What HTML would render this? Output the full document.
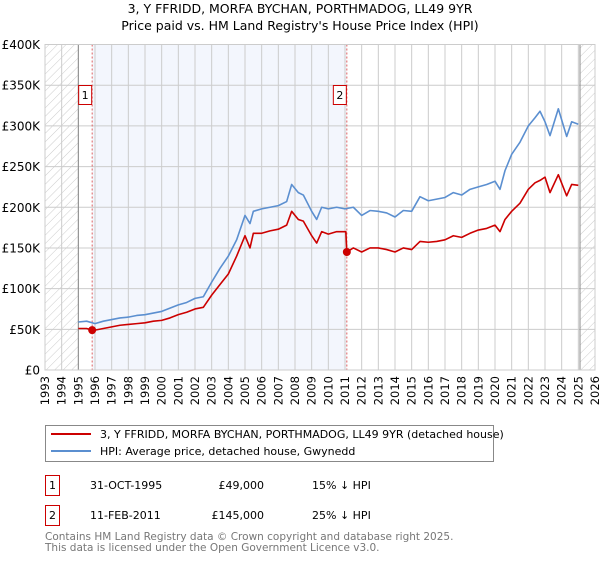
<!DOCTYPE html>
<html><head><meta charset="utf-8"><style>
body{margin:0;background:#fff;font-family:"DejaVu Sans","Liberation Sans",sans-serif;}
svg text{font-family:"DejaVu Sans","Liberation Sans",sans-serif;}
</style></head><body>
<svg id="c" width="600" height="560" xmlns="http://www.w3.org/2000/svg">
<defs><pattern id="h" width="6" height="6" patternUnits="userSpaceOnUse" patternTransform="rotate(45)"><line x1="0" y1="0" x2="0" y2="6" stroke="#ccc" stroke-width="1"/></pattern></defs>
<text x="300" y="13" font-size="12.5" text-anchor="middle">3, Y FFRIDD, MORFA BYCHAN, PORTHMADOG, LL49 9YR</text>
<text x="300" y="30" font-size="12.5" text-anchor="middle">Price paid vs. HM Land Registry's House Price Index (HPI)</text>
<g id="plot"></g>
<rect x="45.5" y="425.5" width="448" height="36" fill="#fff" stroke="#888"/>
<line x1="51" y1="434" x2="91" y2="434" stroke="#cc0000" stroke-width="2"/>
<text x="100" y="438" font-size="11">3, Y FFRIDD, MORFA BYCHAN, PORTHMADOG, LL49 9YR (detached house)</text>
<line x1="51" y1="451" x2="91" y2="451" stroke="#5b8fd0" stroke-width="2"/>
<text x="100" y="455" font-size="11">HPI: Average price, detached house, Gwynedd</text>
<g font-size="11">
<rect x="45.5" y="475.5" width="14" height="20" fill="#fff" stroke="#cc0000"/><text x="52.5" y="489" text-anchor="middle">1</text>
<text x="90" y="489">31-OCT-1995</text><text x="264" y="489" text-anchor="end">£49,000</text><text x="312" y="489">15% ↓ HPI</text></g>
<g font-size="11">
<rect x="45.5" y="505.5" width="14" height="20" fill="#fff" stroke="#cc0000"/><text x="52.5" y="519" text-anchor="middle">2</text>
<text x="90" y="519">11-FEB-2011</text><text x="264" y="519" text-anchor="end">£145,000</text><text x="312" y="519">25% ↓ HPI</text></g>
<text x="45" y="540" font-size="10.5" fill="#777">Contains HM Land Registry data © Crown copyright and database right 2025.</text>
<text x="45" y="551" font-size="10.5" fill="#777">This data is licensed under the Open Government Licence v3.0.</text>
</svg>
<script>
const hpiYears=[1995,1995.5,1996,1996.5,1997,1997.5,1998,1998.5,1999,1999.5,2000,2000.5,2001,2001.5,2002,2002.5,2003,2003.5,2004,2004.5,2005,2005.3,2005.5,2006,2006.5,2007,2007.5,2007.8,2008.2,2008.5,2009,2009.3,2009.6,2010,2010.5,2011,2011.5,2012,2012.5,2013,2013.5,2014,2014.5,2015,2015.5,2016,2016.5,2017,2017.5,2018,2018.5,2019,2019.5,2020,2020.3,2020.6,2021,2021.5,2022,2022.4,2022.7,2023,2023.3,2023.8,2024.3,2024.6,2025];
const hpiValues=[59,60,57,60,62,64,65,67,68,70,72,76,80,83,88,90,108,125,140,160,190,180,195,198,200,202,207,228,218,215,195,185,200,198,200,198,200,190,196,195,193,188,196,195,213,208,210,212,218,215,222,225,228,232,222,245,265,280,300,310,318,305,288,321,287,305,302];
const propYears=[1995,1995.5,1995.83,1996,1996.5,1997,1997.5,1998,1998.5,1999,1999.5,2000,2000.5,2001,2001.5,2002,2002.5,2003,2003.5,2004,2004.5,2005,2005.3,2005.5,2006,2006.5,2007,2007.5,2007.8,2008.2,2008.5,2009,2009.3,2009.6,2010,2010.5,2011.05,2011.11,2011.5,2012,2012.5,2013,2013.5,2014,2014.5,2015,2015.5,2016,2016.5,2017,2017.5,2018,2018.5,2019,2019.5,2020,2020.3,2020.6,2021,2021.5,2022,2022.4,2022.7,2023,2023.3,2023.8,2024.3,2024.6,2025];
const propValues=[51,51,49,49,51,53,55,56,57,58,60,61,64,68,71,75,77,92,105,118,140,165,150,168,168,171,173,178,195,185,183,165,156,170,167,170,170,145,150,145,150,150,148,145,150,148,158,157,158,160,165,163,168,172,174,178,170,185,195,205,222,230,233,237,218,240,214,228,227];
const sales=[[1995.83,49],[2011.11,145]];
const yTicks=[0,50,100,150,200,250,300,350,400];
const X=y=>45+(y-1993)*550/33, Y=v=>370-v*325.5/400;
const ns="http://www.w3.org/2000/svg", g=document.getElementById('plot');
function el(t,a,p){const e=document.createElementNS(ns,t);for(const k in a)e.setAttribute(k,a[k]);(p||g).appendChild(e);return e;}
let r=el('rect',{x:45,y:44.5,width:550,height:325.5,fill:'#fff'});


r=el('rect',{x:X(1995.83),y:44.5,width:X(2011.11)-X(1995.83),height:325.5,fill:'#f3f6fd'});


r=el('rect',{x:45,y:44.5,width:X(1995)-45,height:325.5,fill:'url(#h)'});


r=el('rect',{x:X(2025.1),y:44.5,width:595-X(2025.1),height:325.5,fill:'url(#h)'});


for(let yr=1993;yr<=2026;yr++){
 const l=el('line',{x1:X(yr),x2:X(yr),y1:44.5,y2:370,stroke:'#ccc','stroke-width':1});
 
 
 const t=el('text',{x:0,y:0,'font-size':11.5,'text-anchor':'end',transform:`translate(${X(yr)+4},376) rotate(-90)`});
 
 
 t.textContent=yr;
}
yTicks.forEach(v=>{
 const l=el('line',{x1:45,x2:595,y1:Y(v),y2:Y(v),stroke:'#ccc','stroke-width':1});
 
 
 const t=el('text',{x:40,y:Y(v)+4.5,'font-size':12,'text-anchor':'end'});
 
 
 t.textContent=v==0?'£0':'£'+v+'K';
});
[1995,2025.1].forEach(yr=>{const l=el('line',{x1:X(yr),x2:X(yr),y1:44.5,y2:370,stroke:'#888','stroke-width':1});
 
 });
sales.forEach((s,i)=>{
 const l=el('line',{x1:X(s[0]),x2:X(s[0]),y1:44.5,y2:370,stroke:'#e06060','stroke-width':1,'stroke-dasharray':'2,2'});
 
 
 const b=el('rect',{x:X(s[0])-13.5,y:85.5,width:13,height:19,fill:'#fff',stroke:'#cc0000'});
 
 
 const t=el('text',{x:X(s[0])-7,y:99,'font-size':11,'text-anchor':'middle'});
 
 
 t.textContent=i+1;
});
function line(xs,vs,c,n){const p=el('polyline',{points:xs.map((x,i)=>X(x)+','+Y(vs[i])).join(' '),fill:'none',stroke:c,'stroke-width':1.6,'stroke-linejoin':'round'});
 
 }
line(hpiYears,hpiValues,'#5b8fd0','hpi-line');
line(propYears,propValues,'#cc0000','property-line');
sales.forEach(s=>{const c=el('circle',{cx:X(s[0]),cy:Y(s[1]),r:4,fill:'#cc0000'});
 
 });
r=el('rect',{x:45,y:44.5,width:550,height:325.5,fill:'none',stroke:'#ccc'});


</script>
</body></html>
